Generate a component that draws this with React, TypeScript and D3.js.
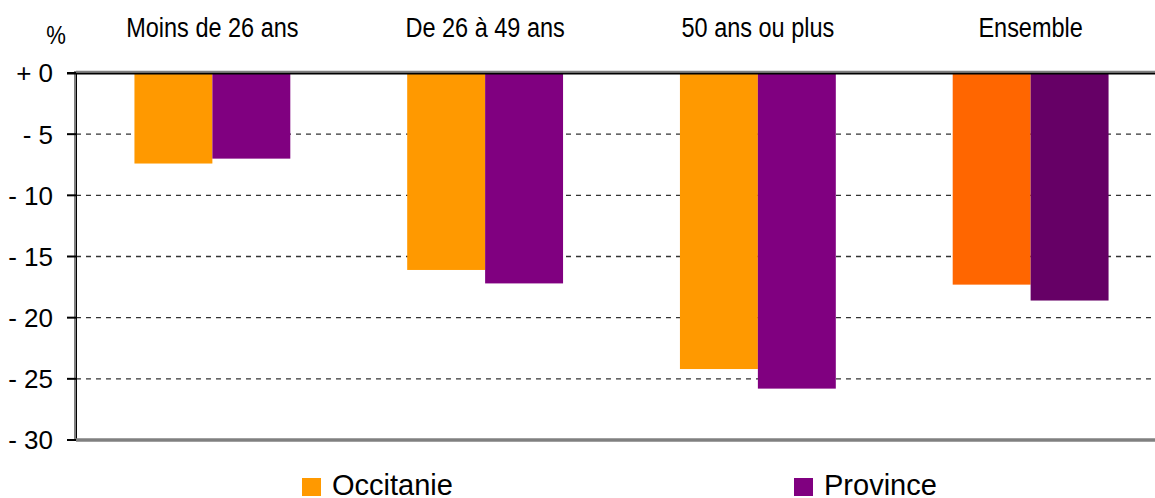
import React from 'react';
import * as d3 from 'd3';

// Évolution en %, par tranche d'âge
const categories = ['Moins de 26 ans', 'De 26 à 49 ans', '50 ans ou plus', 'Ensemble'];
const occitanie = [-7.4, -16.1, -24.2, -17.3];
const province = [-7.0, -17.2, -25.8, -18.6];
const seriesNames = ['Occitanie', 'Province'];
const yTicks = [0, -5, -10, -15, -20, -25, -30];

const W = 1155;
const H = 498;
const margin = { top: 73, left: 76, bottom: 58 };
const plotRight = 1167; // le cadre déborde de l'image à droite

const colors = {
  occitanie: '#FF9900',
  province: '#800080',
  occitanieTotal: '#FF6600',
  provinceTotal: '#660066',
};

const font = '"Liberation Sans", Arial, sans-serif';

const App: React.FC = () => {
  const x0 = d3.scaleBand<string>()
    .domain(categories)
    .range([margin.left, plotRight])
    .paddingInner(0)
    .paddingOuter(0);

  const x1 = d3.scaleBand<string>()
    .domain(seriesNames)
    .range([0, x0.bandwidth()])
    .paddingInner(0)
    .paddingOuter(0.75);

  const y = d3.scaleLinear()
    .domain([0, -30])
    .range([margin.top, H - margin.bottom]);

  const y0 = y(0);

  const fmtTick = (v: number) => (v === 0 ? '+ 0' : `- ${Math.abs(v)}`);

  const legend = [
    { name: seriesNames[0], color: colors.occitanie, x: 302 },
    { name: seriesNames[1], color: colors.province, x: 794 },
  ];

  return (
    <svg
      width={W}
      height={H}
      style={{ position: 'absolute', left: 0, top: 0, background: '#fff' }}
      fontFamily={font}
    >
      {/* grille */}
      {yTicks.filter(t => t !== 0 && t !== -30).map(t => (
        <line
          key={`g${t}`}
          x1={margin.left}
          x2={plotRight}
          y1={y(t)}
          y2={y(t)}
          stroke="#333"
          strokeWidth={1.4}
          strokeDasharray="5,5"
        />
      ))}

      {/* barres */}
      {categories.map((c, i) => {
        const last = i === categories.length - 1;
        const vals = [occitanie[i], province[i]];
        const fills = last
          ? [colors.occitanieTotal, colors.provinceTotal]
          : [colors.occitanie, colors.province];
        return (
          <g key={c} transform={`translate(${x0(c)},0)`}>
            {seriesNames.map((s, j) => (
              <rect
                key={s}
                x={x1(s)}
                y={y0}
                width={x1.bandwidth()}
                height={y(vals[j]) - y0}
                fill={fills[j]}
              />
            ))}
          </g>
        );
      })}

      {/* axes */}
      <line x1={margin.left - 1} x2={margin.left - 1} y1={y0 - 2} y2={y(-30)} stroke="#808080" strokeWidth={2} />
      <line x1={margin.left + 0.5} x2={margin.left + 0.5} y1={y0} y2={y(-30)} stroke="#000" strokeWidth={1} />
      <line x1={margin.left} x2={plotRight} y1={y(-30)} y2={y(-30)} stroke="#808080" strokeWidth={3.5} />
      <line x1={margin.left} x2={plotRight} y1={y0 - 1.5} y2={y0 - 1.5} stroke="#808080" strokeWidth={1.5} />
      <line x1={margin.left - 9} x2={plotRight} y1={y0 + 0.5} y2={y0 + 0.5} stroke="#000" strokeWidth={2} />

      {/* graduations */}
      {yTicks.map(t => (
        <g key={`t${t}`}>
          <line x1={margin.left - 9} x2={margin.left} y1={y(t)} y2={y(t)} stroke="#000" strokeWidth={2} />
          <text x={53} y={y(t)} dy="0.36em" textAnchor="end" fontSize={26} fill="#000">
            {fmtTick(t)}
          </text>
        </g>
      ))}

      <text transform="translate(56,44) scale(0.85,1)" textAnchor="middle" fontSize={26} fill="#000">%</text>

      {/* libellés des catégories */}
      {categories.map(c => (
        <text
          key={`l${c}`}
          transform={`translate(${(x0(c) || 0) + x0.bandwidth() / 2},37) scale(0.87,1)`}
          textAnchor="middle"
          fontSize={27}
          fill="#000"
        >
          {c}
        </text>
      ))}

      {/* légende */}
      {legend.map(l => (
        <g key={l.name}>
          <rect x={l.x} y={478} width={19} height={18} fill={l.color} />
          <text x={l.x + 30} y={495} fontSize={29} fill="#000">{l.name}</text>
        </g>
      ))}
    </svg>
  );
};

export default App;
